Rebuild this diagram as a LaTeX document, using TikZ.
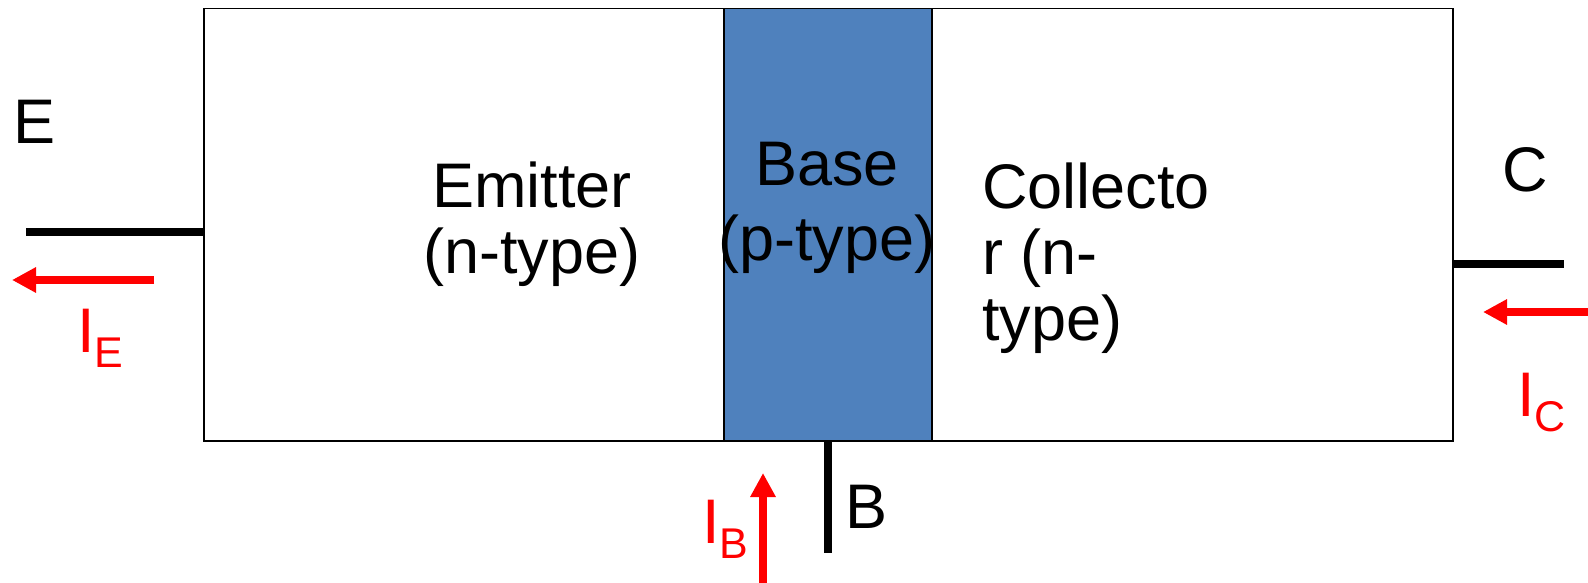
\documentclass[tikz,border=0pt]{standalone}
\usepackage{fontspec}
\setmainfont{Liberation Sans}
\usetikzlibrary{arrows.meta}
\definecolor{baseblue}{RGB}{79,129,189}
\definecolor{curred}{RGB}{255,0,0}
\tikzset{
  lbl/.style={font=\fontsize{63}{66}\selectfont, inner sep=0pt},
  region/.style={draw, line width=1.5pt, anchor=north west, inner sep=0pt, minimum height=432pt},
  lead/.style={line width=8pt},
  current/.style={curred, line width=8pt, -{Triangle[length=24pt,width=24pt]}},
}
\newcommand{\curlbl}[1]{I\raisebox{-15pt}{\fontsize{43}{43}\selectfont #1}}
\begin{document}
\begin{tikzpicture}[x=1pt, y=-1pt]
		\useasboundingbox (0,0) rectangle (1588,583);
		% transistor body and base region
		\node[region, minimum width=1249pt] (body) at (203,8) {};
		\node[region, fill=baseblue, minimum width=208pt] (base) at (723,8) {};
		\node[lbl, align=center, anchor=base] (emtext) at (532,273) {Emitter\\(n-type)};
		\node[lbl, align=center, anchor=base, font=\fontsize{63}{75}\selectfont] (basetext) at (827,260) {Base\\(p-type)};
		\node[lbl, align=left, anchor=base west] (coltext) at (982,340) {Collecto\\r (n-\\type)};
		% terminals
		\coordinate (eend) at (26,232);
		\coordinate (cend) at (1564,264);
		\coordinate (bend) at (828,553);
		\draw[lead] (eend) -- (body.west |- eend);
		\draw[lead] (body.east |- cend) -- (cend);
		\draw[lead] (body.south -| bend) -- (bend);
		\node[lbl, anchor=base west] (elbl) at (13,144) {E};
		\node[lbl, anchor=base west] (clbl) at (1502,192) {C};
		\node[lbl, anchor=base west] (blbl) at (845,528) {B};
		% currents
		\coordinate (ietail) at (154,280);
		\coordinate (iehead) at (12,280);
		\coordinate (ictail) at (1595,312);
		\coordinate (ichead) at (1483,312);
		\coordinate (ibtail) at (763,590);
		\coordinate (ibhead) at (763,473);
		\draw[current] (ietail) -- (iehead);
		\draw[current] (ictail) -- (ichead);
		\draw[current] (ibtail) -- (ibhead);
		\node[lbl, text=curred, anchor=base west] (ie) at (77,352) {\curlbl{E}};
		\node[lbl, text=curred, anchor=base west] (ic) at (1517,416) {\curlbl{C}};
		\node[lbl, text=curred, anchor=base west] (ib) at (702,543) {\curlbl{B}};
\end{tikzpicture}
\end{document}
